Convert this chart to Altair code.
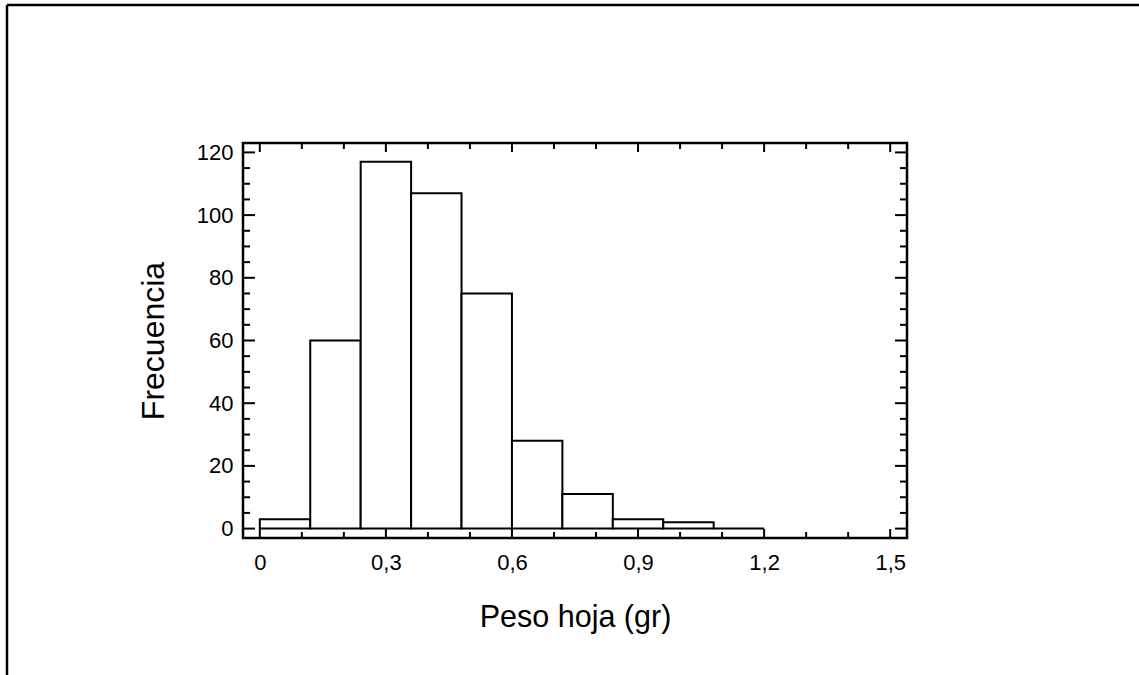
import altair as alt
import pandas as pd

# Histogram data
bin_start = [0.00, 0.12, 0.24, 0.36, 0.48, 0.60, 0.72, 0.84, 0.96, 1.08]
bin_end = [0.12, 0.24, 0.36, 0.48, 0.60, 0.72, 0.84, 0.96, 1.08, 1.20]
counts = [3, 60, 117, 107, 75, 28, 11, 3, 2, 0]

# Tick values
x_major = [0, 0.3, 0.6, 0.9, 1.2, 1.5]
x_minor = [0.1, 0.2, 0.4, 0.5, 0.7, 0.8, 1.0, 1.1, 1.3, 1.4]
y_major = [0, 20, 40, 60, 80, 100, 120]
y_minor = [5, 10, 15, 25, 30, 35, 45, 50, 55, 65, 70, 75, 85, 90, 95, 105, 110, 115]

x_title = "Peso hoja (gr)"
y_title = "Frecuencia"

W, H = 664, 395
FONT = "Liberation Sans"

xscale = alt.Scale(domain=[-0.04, 1.54], nice=False, zero=False)
yscale = alt.Scale(domain=[-3, 123], nice=False, zero=False)

xaxis = alt.Axis(
    values=x_major,
    labelExpr="datum.value == 0 ? '0' : replace(format(datum.value, '.1f'), '.', ',')",
    domain=False, ticks=False, grid=False, labelFlush=False, labelOverlap=False,
    labelFont=FONT, labelFontSize=22, labelColor="black", labelPadding=14,
    titleFont=FONT, titleFontSize=30.5, titleFontWeight="normal", titleColor="black",
    titleX=W / 2, titleY=79, titleBaseline="middle", titleAlign="center",
)
yaxis = alt.Axis(
    values=y_major, format="d",
    domain=False, ticks=False, grid=False, labelOverlap=False,
    labelFont=FONT, labelFontSize=22, labelColor="black", labelPadding=10,
    titleFont=FONT, titleFontSize=32, titleFontWeight="normal", titleColor="black",
    titleX=-90, titleY=H / 2, titleAngle=270, titleBaseline="middle", titleAlign="center",
)

def X(field="x"):
    return alt.X(f"{field}:Q", scale=xscale, axis=xaxis, title=x_title)

def Y(field="y"):
    return alt.Y(f"{field}:Q", scale=yscale, axis=yaxis, title=y_title)

bars_df = pd.DataFrame({"x": bin_start, "x2": bin_end, "y": counts, "y0": [0] * len(counts)})
bars = alt.Chart(bars_df).mark_rect(fill="white", stroke="black", strokeWidth=2).encode(
    x=X(), x2="x2:Q", y=Y(), y2="y0:Q"
)

xmaj_df = pd.DataFrame({"x": x_major})
xmin_df = pd.DataFrame({"x": x_minor})
ymaj_df = pd.DataFrame({"y": y_major})
ymin_df = pd.DataFrame({"y": y_minor})

tick_style = dict(color="black", strokeWidth=2)

layers = [bars]
# bottom and top x ticks (inward)
for df, ln in [(xmaj_df, 9), (xmin_df, 6)]:
    layers.append(alt.Chart(df).mark_rule(**tick_style).encode(x=X(), y=alt.value(H), y2=alt.value(H - ln)))
    layers.append(alt.Chart(df).mark_rule(**tick_style).encode(x=X(), y=alt.value(0), y2=alt.value(ln)))
# left and right y ticks (inward)
for df, ln in [(ymaj_df, 12), (ymin_df, 7)]:
    layers.append(alt.Chart(df).mark_rule(**tick_style).encode(y=Y(), x=alt.value(0), x2=alt.value(ln)))
    layers.append(alt.Chart(df).mark_rule(**tick_style).encode(y=Y(), x=alt.value(W), x2=alt.value(W - ln)))

# outer frame (top and left edges visible)
one = pd.DataFrame({"a": [0]})
frame_top = alt.Chart(one).mark_rule(color="black", strokeWidth=2.5).encode(
    x=alt.value(-236), x2=alt.value(896), y=alt.value(-138)
)
frame_left = alt.Chart(one).mark_rule(color="black", strokeWidth=2.5).encode(
    x=alt.value(-236), y=alt.value(-138), y2=alt.value(540)
)
layers += [frame_top, frame_left]

chart = alt.layer(*layers).properties(
    width=W, height=H,
    padding={"left": 243, "top": 143, "right": 232, "bottom": 137},
    autosize=alt.AutoSizeParams(type="none"),
    background="white",
).configure_view(stroke="black", strokeWidth=2.5)

chart.save("out.html", embed_options={"renderer": "svg", "actions": False})
